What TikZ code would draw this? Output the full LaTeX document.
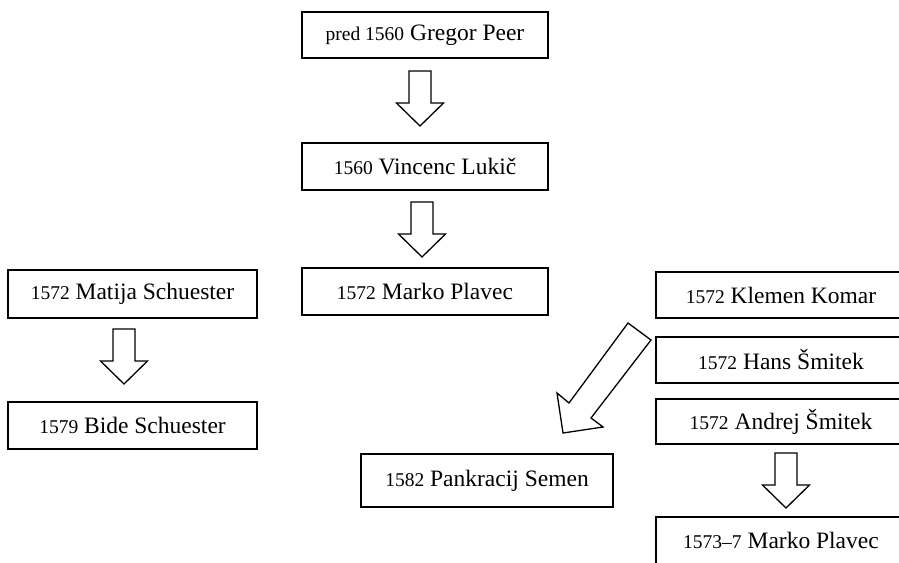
\documentclass[tikz,border=0pt]{standalone}
\usepackage{fontspec}
\setmainfont{Liberation Serif}
\newcommand\yr[1]{{\fontsize{19.5}{22}\selectfont #1}}
\tikzset{
  box/.style={draw=black, line width=1.6pt, inner sep=0pt, align=center,
    font=\fontsize{23.5}{27}\selectfont, minimum height=46pt},
  blockarrow/.style={draw=black, line width=1.3pt, fill=white, line join=miter},
  pics/downarr/.style={code={
    \draw[blockarrow] (-11,0) -- (11,0) -- (11,32) -- (23.5,32) -- (0,55)
      -- (-23.5,32) -- (-11,32) -- cycle;}}
}
\begin{document}
\begin{tikzpicture}[x=1pt, y=-1pt]
\useasboundingbox (0,0) rectangle (899,562);
\clip (0,0) rectangle (899,562);
% centre column
\node[box, minimum width=246pt] (peer) at (425,35) {\yr{pred 1560} Gregor Peer};
\node[box, minimum width=246pt, minimum height=47pt] (lukic) at (425,166.5) {\yr{1560} Vincenc Luki\v{c}};
\node[box, minimum width=246pt, minimum height=47pt] (plavec) at (425,291.5) {\yr{1572} Marko Plavec};
% left column
\node[box, minimum width=249pt, minimum height=48pt] (matija) at (132.5,294) {\yr{1572} Matija Schuester};
\node[box, minimum width=249pt, minimum height=47pt] (bide) at (132.5,425.5) {\yr{1579} Bide Schuester};
% Pankracij
\node[box, minimum width=252pt, minimum height=53pt] (pank) at (487,480.5) {\yr{1582} Pankracij Semen};
% right column
\node[box, minimum width=250pt] (klemen) at (781,295) {\yr{1572} Klemen Komar};
\node[box, minimum width=250pt] (hans) at (781,360) {\yr{1572} Hans \v{S}mitek};
\node[box, minimum width=250pt, minimum height=45pt] (andrej) at (781,421.5) {\yr{1572} Andrej \v{S}mitek};
\node[box, minimum width=250pt, minimum height=50pt] (marko2) at (781,542) {};
\node[font=\fontsize{23.5}{27}\selectfont] (marko2txt) at (781,540) {\yr{1573--7} Marko Plavec};
% block arrows
\pic at (420,71) {downarr};
\pic at (422,202) {downarr};
\pic at (124,329) {downarr};
\pic at (786,453) {downarr};
\draw[blockarrow] (628,323) -- (651,340) -- (591,418) -- (603,427) -- (563,433)
  -- (557,393) -- (569,403) -- cycle;
\end{tikzpicture}
\end{document}
